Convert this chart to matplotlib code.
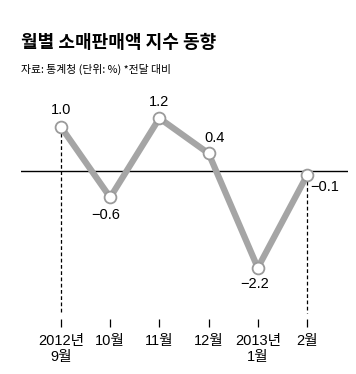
import matplotlib
matplotlib.use("Agg")
import matplotlib.pyplot as plt

plt.rcParams['font.family'] = ['Liberation Sans', 'Noto Sans CJK KR', 'DejaVu Sans']
plt.rcParams['axes.unicode_minus'] = True

months = ["2012년\n9월", "10월", "11월", "12월", "2013년\n1월", "2월"]
values = [1.0, -0.6, 1.2, 0.4, -2.2, -0.1]
labels = ["1.0", "−0.6", "1.2", "0.4", "−2.2", "−0.1"]

W, H = 356, 374
fig = plt.figure(figsize=(W / 100, H / 100), dpi=100)

# axes in pixel layout
x_left, x_right = 21, 348
y_top, y_bot = 95, 327
ax = fig.add_axes([x_left / W, 1 - y_bot / H, (x_right - x_left) / W, (y_bot - y_top) / H])

px_per_x = 49.2
px_per_y = 44.0
zero_px = 171
x0_px = 61
ax.set_xlim(-(x0_px - x_left) / px_per_x, 5 + (x_right - (x0_px + 5 * px_per_x)) / px_per_x)
ax.set_ylim(-(y_bot - zero_px) / px_per_y, (zero_px - y_top) / px_per_y)

for s in ax.spines.values():
    s.set_visible(False)

xs = list(range(len(values)))
ax.axhline(0, color='black', lw=1.0, zorder=1)

# dashed drop lines for first and last
y_dash_end = -(313 - zero_px) / px_per_y
for i in (0, len(values) - 1):
    ax.plot([xs[i], xs[i]], [values[i], y_dash_end], color='black', lw=0.9,
            ls=(0, (3, 2)), zorder=1)

ax.plot(xs, values, color='#a5a5a5', lw=4.5, solid_capstyle='round', zorder=2)
ax.plot(xs, values, ls='none', marker='o', ms=8.5, mfc='white', mec='#9a9a9a',
        mew=1.3, zorder=3)

# value labels (offsets in points)
offsets = [(0, 12, 'center'), (-3, -13, 'center'), (0, 12, 'center'),
           (4, 11, 'center'), (-2, -12, 'center'), (2, -8.5, 'left')]
for x, v, lab, (dx, dy, ha) in zip(xs, values, labels, offsets):
    ax.annotate(lab, (x, v), xytext=(dx, dy), textcoords='offset points',
                ha=ha, va='center', fontsize=10.5, color='black')

ax.set_yticks([])
ax.set_xticks(xs)
ax.set_xticklabels(months, fontsize=10.5, linespacing=1.15)
ax.tick_params(axis='x', direction='in', length=6, width=0.9, color='black', pad=5)

fig.text(21 / W, 1 - 43 / H, "월별 소매판매액 지수 동향", fontsize=13, fontweight='bold',
         family=['Noto Sans CJK KR'], va='center', ha='left')
fig.text(21 / W, 1 - 69.5 / H, "자료: 통계청 (단위: %) *전달 대비", fontsize=7.8,
         family=['Noto Sans CJK KR'], va='center', ha='left')

fig.savefig("out.png", dpi=100)
